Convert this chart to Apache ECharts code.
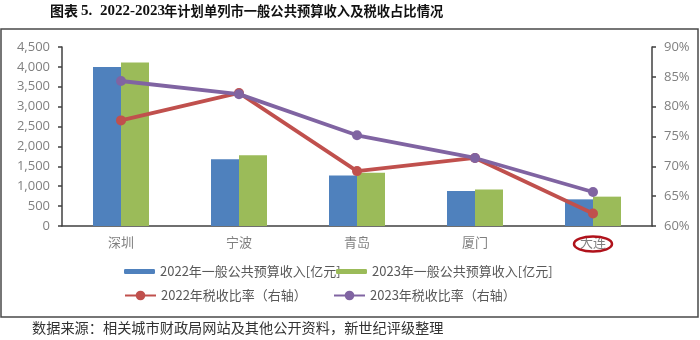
<!DOCTYPE html>
<html>
<head>
<meta charset="utf-8">
<script src="https://cdn.jsdelivr.net/npm/echarts@6/dist/echarts.min.js"></script>
<style>
html,body{margin:0;padding:0;background:#fff;}
#c{width:700px;height:340px;}
</style>
</head>
<body>
<div id="c"></div>
<script>
var categories = ['深圳', '宁波', '青岛', '厦门', '大连'];
var rev2022 = [4000, 1680, 1270, 880, 670];
var rev2023 = [4110, 1780, 1340, 920, 738];
var tax2022 = [77.7, 82.3, 69.2, 71.4, 62.1];
var tax2023 = [84.3, 82.1, 75.2, 71.4, 65.7];
var leftTicks = {min: 0, max: 4500, interval: 500};
var rightTicks = {min: 60, max: 90, interval: 5};
var names = ['2022年一般公共预算收入[亿元]', '2023年一般公共预算收入[亿元]', '2022年税收比率（右轴）', '2023年税收比率（右轴）'];

var FONT = '"Noto Sans CJK SC", "Liberation Sans", sans-serif';
var chart = echarts.init(document.getElementById('c'), null, {renderer: 'canvas'});
var legendText = {color: '#595959', fontSize: 13, fontFamily: FONT};
function leg(name, left, top, w, h) {
  return {data: [name], left: left, top: top, itemWidth: w, itemHeight: h, textStyle: legendText, padding: 0, itemGap: 0};
}
var option = {
  backgroundColor: '#fff',
  animation: false,
  grid: {left: 62, right: 48, top: 47, bottom: 114},
  legend: [
    leg(names[0], 124, 265, 31, 5),
    leg(names[1], 336, 265, 31, 5),
    leg(names[2], 124, 289, 31, 12),
    leg(names[3], 333, 289, 31, 12)
  ],
  xAxis: {
    type: 'category', data: categories,
    axisLine: {lineStyle: {color: '#404040', width: 1.5}},
    axisTick: {show: false},
    axisLabel: {color: '#7f7f7f', fontSize: 13, fontFamily: FONT, margin: 10}
  },
  yAxis: [{
    type: 'value', min: leftTicks.min, max: leftTicks.max, interval: leftTicks.interval,
    axisLine: {show: true, lineStyle: {color: '#404040', width: 1.5}},
    axisTick: {show: true, length: 4, lineStyle: {color: '#404040', width: 1.5}},
    splitLine: {show: false},
    axisLabel: {color: '#808080', fontSize: 13, fontFamily: '"Open Sans", "Liberation Sans", sans-serif', margin: 12,
      formatter: function (v) { return v.toLocaleString('en-US'); }}
  }, {
    type: 'value', min: rightTicks.min, max: rightTicks.max, interval: rightTicks.interval,
    position: 'right',
    axisLine: {show: true, lineStyle: {color: '#404040', width: 1.5}},
    axisTick: {show: true, length: 4, lineStyle: {color: '#404040', width: 1.5}},
    splitLine: {show: false},
    axisLabel: {color: '#808080', fontSize: 13, fontFamily: '"Open Sans", "Liberation Sans", sans-serif', margin: 12,
      formatter: function (v) { return v + '%'; }}
  }],
  series: [{
    name: names[0], type: 'bar', data: rev2022, barWidth: 28, barGap: '0%',
    itemStyle: {color: '#4F81BD'}
  }, {
    name: names[1], type: 'bar', data: rev2023, barWidth: 28, barGap: '0%',
    itemStyle: {color: '#9BBB59'}
  }, {
    name: names[2], type: 'line', yAxisIndex: 1, data: tax2022,
    symbol: 'circle', symbolSize: 10,
    lineStyle: {color: '#C0504D', width: 3.8}, itemStyle: {color: '#C0504D'}
  }, {
    name: names[3], type: 'line', yAxisIndex: 1, data: tax2023,
    symbol: 'circle', symbolSize: 10,
    lineStyle: {color: '#8064A2', width: 3.8}, itemStyle: {color: '#8064A2'}
  }]
};
chart.setOption(option);

var dx = chart.convertToPixel({xAxisIndex: 0}, '大连');
chart.setOption({
  graphic: [
    {type: 'rect', shape: {x: 1, y: 29, width: 697, height: 288}, style: {fill: 'none', stroke: '#4a4a4a', lineWidth: 1.5}, silent: true, z: -1},
    {type: 'text', left: 50, top: 4, style: {text: '图表', font: 'bold 14px "Noto Sans CJK SC"', fill: '#111'}},
    {type: 'text', left: 81, top: 4, style: {text: '5.', font: 'bold 15px "Liberation Serif"', fill: '#111'}},
    {type: 'text', left: 100, top: 4, style: {text: '2022-2023', font: 'bold 15px "Liberation Serif"', fill: '#111'}},
    {type: 'text', left: 164, top: 4, style: {text: '年计划单列市一般公共预算收入及税收占比情况', font: 'bold 13.3px "Noto Sans CJK SC"', fill: '#111'}},
    {type: 'text', left: 32, top: 321, style: {text: '数据来源：相关城市财政局网站及其他公开资料，新世纪评级整理', font: '14.2px "Noto Sans CJK SC"', fill: '#333'}},
    {type: 'ellipse', shape: {cx: dx, cy: 244, rx: 19, ry: 7.5}, style: {fill: 'none', stroke: '#B0121B', lineWidth: 2.5}, z: 10}
  ]
});
</script>
</body>
</html>
